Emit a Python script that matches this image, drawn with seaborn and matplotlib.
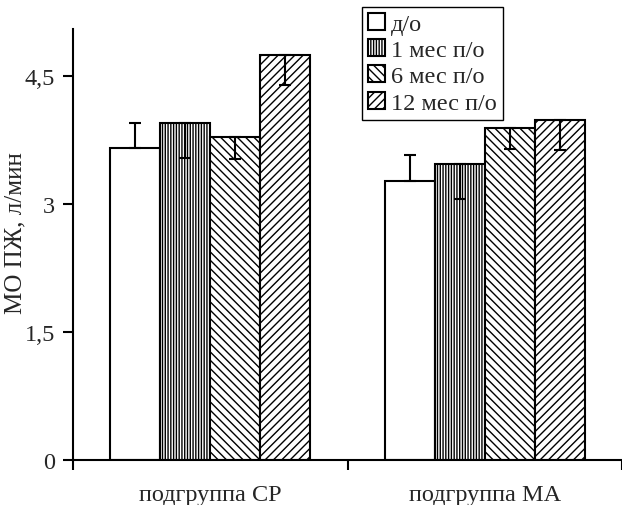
import pandas as pd
import matplotlib.pyplot as plt
import numpy as np
import seaborn as sns
from matplotlib.patches import Patch

# ---------------------------------------------------------
# Data
# ---------------------------------------------------------

groups = ["подгруппа СР", "подгруппа МА"]
periods = ["д/о", "1 мес п/о", "6 мес п/о", "12 мес п/о"]

# mean values per period, one entry per group
means = {
    "д/о":        [3.65, 3.27],
    "1 мес п/о":  [3.95, 3.47],
    "6 мес п/о":  [3.79, 3.89],
    "12 мес п/о": [4.75, 3.98],
}
# error half-widths
errs = {
    "д/о":        [0.30, 0.30],
    "1 мес п/о":  [0.41, 0.41],
    "6 мес п/о":  [0.26, 0.25],
    "12 мес п/о": [0.36, 0.35],
}
# error bar direction: +1 up, -1 down
err_dir = {"д/о": 1, "1 мес п/о": -1, "6 мес п/о": -1, "12 мес п/о": -1}

hatches = {"д/о": "", "1 мес п/о": "||||||", "6 мес п/о": "\\\\\\\\", "12 мес п/о": "////"}

yticks = [0, 1.5, 3, 4.5]
ytick_labels = ["0", "1,5", "3", "4,5"]

# ---------------------------------------------------------
# Build long table
# ---------------------------------------------------------

rows = []
for p in periods:
    for g, v in zip(groups, means[p]):
        rows.append({"group": g, "period": p, "value": v})
df = pd.DataFrame(rows)

# ---------------------------------------------------------
# Plot
# ---------------------------------------------------------

sns.set_style("white")
plt.rcParams["font.family"] = ["Liberation Serif", "DejaVu Serif"]
plt.rcParams["hatch.linewidth"] = 1.0
plt.rcParams["hatch.color"] = "black"

FS = 17.5

fig = plt.figure(figsize=(6.22, 5.06), dpi=100)
ax = fig.add_axes([73 / 622, 1 - 461 / 506, 1 - 73 / 622, (461 - 30) / 506])

sns.barplot(data=df, x="group", y="value", hue="period", order=groups,
            hue_order=periods, width=0.73, errorbar=None, ax=ax,
            palette=["white"] * 4, legend=False)

for cont, p in zip(ax.containers, periods):
    for bar, m, e in zip(cont, means[p], errs[p]):
        bar.set_facecolor("white")
        bar.set_edgecolor("black")
        bar.set_linewidth(1.5)
        bar.set_hatch(hatches[p])
        xc = bar.get_x() + bar.get_width() / 2
        if err_dir[p] > 0:
            yerr = [[0], [e]]
        else:
            yerr = [[e], [0]]
        ax.errorbar(xc, m, yerr=yerr, fmt="none", ecolor="black",
                    elinewidth=1.5, capsize=4, capthick=1.5, zorder=5)

ax.set_xlim(-0.5, 1.5)
ax.set_ylim(0, 5.05)
ax.set_yticks(yticks)
ax.set_yticklabels(ytick_labels)
ax.set_xlabel("")
ax.set_ylabel("")
fig.text(15 / 622, 1 - 233 / 506, "МО ПЖ, л/мин", fontsize=18,
         rotation=90, ha="center", va="center")

ax.set_xticks([-0.5, 0.5, 1.5], minor=True)
ax.tick_params(axis="x", which="major", length=0, labelsize=FS, pad=17)
ax.tick_params(axis="x", which="minor", length=7, width=1.5, direction="out",
               color="black", bottom=True)
ax.tick_params(axis="y", length=7, width=1.5, direction="out", color="black",
               labelsize=FS, left=True, pad=6)

for side in ["top", "right"]:
    ax.spines[side].set_visible(False)
for side in ["left", "bottom"]:
    ax.spines[side].set_color("black")
    ax.spines[side].set_linewidth(1.5)

# legend
handles = [Patch(facecolor="white", edgecolor="black", hatch=hatches[p],
                 linewidth=1.5, label=p) for p in periods]
leg = fig.legend(handles=handles, loc="upper left",
                 bbox_to_anchor=(362 / 622, 1 - 8 / 506), fontsize=FS,
                 frameon=True, fancybox=False, framealpha=1, edgecolor="black",
                 handlelength=0.7, handleheight=0.7, handletextpad=0.25,
                 labelspacing=0.17, borderpad=0.25, borderaxespad=0)
leg.get_frame().set_linewidth(1.0)

fig.savefig("out.png", dpi=100)
